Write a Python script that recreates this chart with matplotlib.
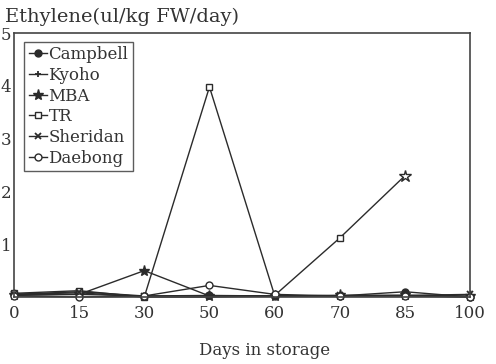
import matplotlib.pyplot as plt

plt.rcParams['font.family'] = 'DejaVu Serif'

days = ['0', '15', '30', '50', '60', '70', '85', '100']
campbell = [0.05, 0.05, 0.02, 0.03, 0.02, 0.02, 0.10, 0.00]
kyoho = [0.05, 0.08, 0.00, 0.00, 0.02, 0.02, 0.03, 0.00]
mba = [0.03, 0.05, 0.50, 0.02, 0.02, 0.03, 0.03, 0.02]
tr = [0.07, 0.12, 0.00, 3.98, 0.03, 1.12, 2.30]
sheridan = [0.05, 0.10, 0.02, 0.02, 0.02, 0.03, 0.03, 0.05]
daebong = [0.02, 0.00, 0.02, 0.22, 0.05, 0.02, 0.02, 0.00]

ink = '#2b2b2b'
pos = list(range(len(days)))

fig = plt.figure(figsize=(4.96, 3.64), dpi=100)
ax = fig.add_axes([0.028, 0.184, 0.92, 0.725])

common = dict(color=ink, lw=1.0, clip_on=False, markersize=5)
ax.plot(pos, campbell, marker='o', label='Campbell', **common)
ax.plot(pos, kyoho, marker='+', mew=1.3, label='Kyoho', **common)
ax.plot(pos, mba, marker='*', markersize=8, label='MBA',
        **{k: v for k, v in common.items() if k != 'markersize'})
ax.plot(pos[:len(tr)], tr, marker='s', mfc='white', markevery=list(range(6)),
        label='TR', **common)
# last TR reading drawn with a star
ax.plot(pos[len(tr) - 1], tr[-1], marker='*', mfc='white', mec=ink,
        markersize=9, clip_on=False)
ax.plot(pos, sheridan, marker='x', mew=1.3, label='Sheridan', **common)
ax.plot(pos, daebong, marker='o', mfc='white', label='Daebong', **common)

ax.set_xlim(0, 7)
ax.set_ylim(0, 5)
ax.set_xticks(pos)
ax.set_xticklabels(days)
ax.set_yticks([1, 2, 3, 4, 5])
ax.tick_params(length=0, labelsize=12, colors='#333333', pad=6)
ax.tick_params(axis='y', pad=2)
for s in ax.spines.values():
    s.set_color('#444444')
    s.set_linewidth(1.2)

ax.set_xlabel('Days in storage', fontsize=12, color='#333333')
ax.xaxis.set_label_coords(0.55, -0.17)
fig.text(0.01, 0.955, 'Ethylene(ul/kg FW/day)', fontsize=14,
         color='#333333', va='center')

leg = ax.legend(loc='upper left', bbox_to_anchor=(0.012, 0.985),
                fontsize=12, frameon=True, fancybox=False, handlelength=1.1,
                handletextpad=0.1, labelspacing=0.22, borderpad=0.25,
                borderaxespad=0.3)
leg.get_frame().set_edgecolor('#333333')
leg.get_frame().set_linewidth(1.0)
for t in leg.get_texts():
    t.set_color('#333333')

fig.savefig('out.png', dpi=100)
